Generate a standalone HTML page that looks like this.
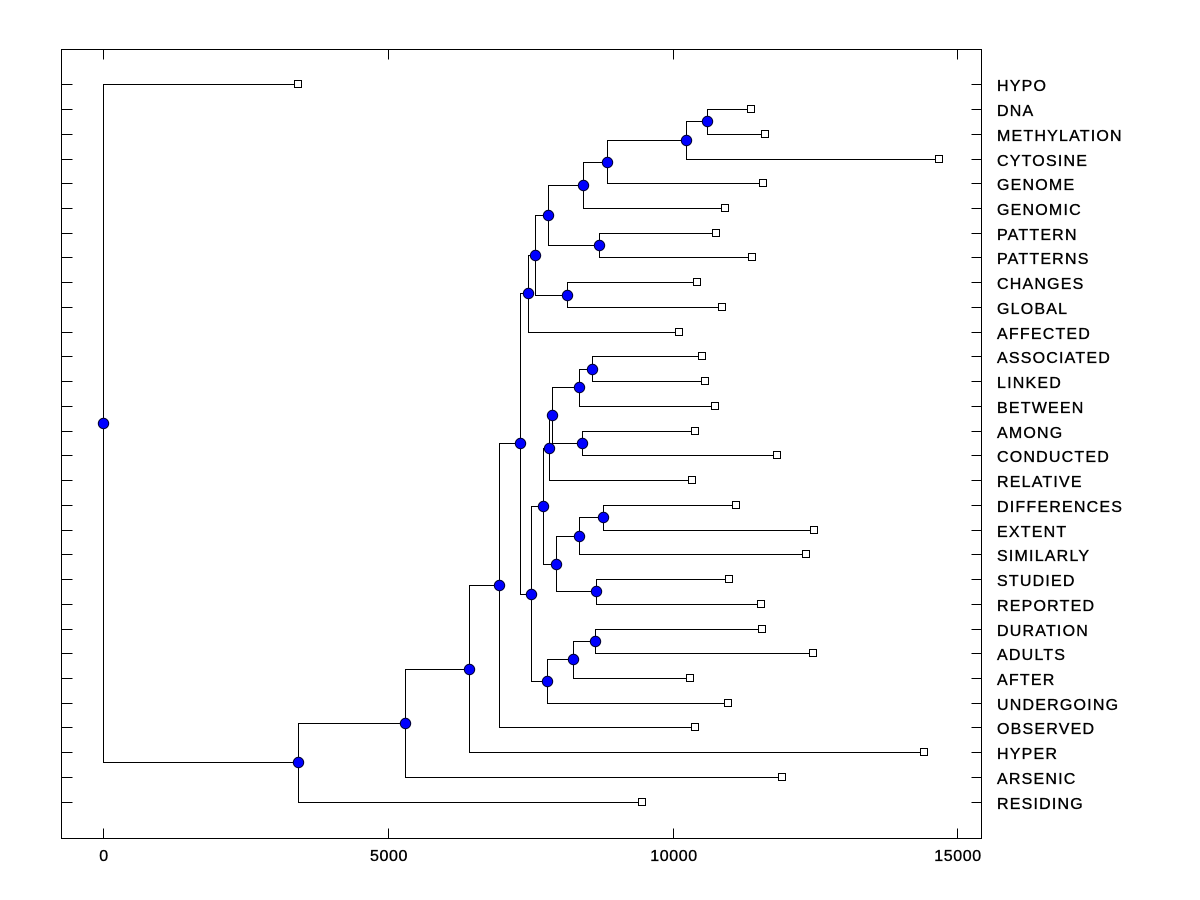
<!DOCTYPE html>
<html>
<head>
<meta charset="utf-8">
<style>
html,body{margin:0;padding:0;background:#fff;}
svg{display:block;}
text{font-family:"Liberation Sans",Arial,sans-serif;fill:#000;}
</style>
</head>
<body>
<svg width="1200" height="900" viewBox="0 0 1200 900" xmlns="http://www.w3.org/2000/svg">
<rect width="1200" height="900" fill="#fff"/>
<g transform="translate(0.5,0.5)" stroke="#000" stroke-width="1" fill="none" shape-rendering="crispEdges">
<rect x="61" y="49" width="920" height="789"/>
<path d="M61 84H72M61 109H72M61 134H72M61 159H72M61 183H72M61 208H72M61 233H72M61 257H72M61 282H72M61 307H72M61 332H72M61 356H72M61 381H72M61 406H72M61 431H72M61 455H72M61 480H72M61 505H72M61 530H72M61 554H72M61 579H72M61 604H72M61 629H72M61 653H72M61 678H72M61 703H72M61 727H72M61 752H72M61 777H72M61 802H72"/>
<path d="M971 84H981M971 109H981M971 134H981M971 159H981M971 183H981M971 208H981M971 233H981M971 257H981M971 282H981M971 307H981M971 332H981M971 356H981M971 381H981M971 406H981M971 431H981M971 455H981M971 480H981M971 505H981M971 530H981M971 554H981M971 579H981M971 604H981M971 629H981M971 653H981M971 678H981M971 703H981M971 727H981M971 752H981M971 777H981M971 802H981"/>
<path d="M103 828V838M388 828V838M673 828V838M957 828V838M103 49V59M388 49V59M673 49V59M957 49V59"/>
<path d="M751 109H707V134H765"/>
<path d="M707 121H686V159H939"/>
<path d="M686 140H607V183H763"/>
<path d="M607 162H583V208H725"/>
<path d="M716 233H599V257H752"/>
<path d="M583 185H548V245H599"/>
<path d="M697 282H567V307H722"/>
<path d="M548 215H535V295H567"/>
<path d="M535 255H528V332H679"/>
<path d="M702 356H592V381H705"/>
<path d="M592 369H579V406H715"/>
<path d="M695 431H582V455H777"/>
<path d="M579 387H552V443H582"/>
<path d="M552 415H549V480H692"/>
<path d="M736 505H603V530H814"/>
<path d="M603 517H579V554H806"/>
<path d="M729 579H596V604H761"/>
<path d="M579 536H556V591H596"/>
<path d="M549 448H543V564H556"/>
<path d="M762 629H595V653H813"/>
<path d="M595 641H573V678H690"/>
<path d="M573 659H547V703H728"/>
<path d="M543 506H531V681H547"/>
<path d="M528 293H520V594H531"/>
<path d="M520 443H499V727H695"/>
<path d="M499 585H469V752H924"/>
<path d="M469 669H405V777H782"/>
<path d="M405 723H298V802H642"/>
<path d="M298 84H103V762H298"/>
<g fill="#fff">
<rect x="294" y="80" width="7" height="7"/>
<rect x="747" y="105" width="7" height="7"/>
<rect x="761" y="130" width="7" height="7"/>
<rect x="935" y="155" width="7" height="7"/>
<rect x="759" y="179" width="7" height="7"/>
<rect x="721" y="204" width="7" height="7"/>
<rect x="712" y="229" width="7" height="7"/>
<rect x="748" y="253" width="7" height="7"/>
<rect x="693" y="278" width="7" height="7"/>
<rect x="718" y="303" width="7" height="7"/>
<rect x="675" y="328" width="7" height="7"/>
<rect x="698" y="352" width="7" height="7"/>
<rect x="701" y="377" width="7" height="7"/>
<rect x="711" y="402" width="7" height="7"/>
<rect x="691" y="427" width="7" height="7"/>
<rect x="773" y="451" width="7" height="7"/>
<rect x="688" y="476" width="7" height="7"/>
<rect x="732" y="501" width="7" height="7"/>
<rect x="810" y="526" width="7" height="7"/>
<rect x="802" y="550" width="7" height="7"/>
<rect x="725" y="575" width="7" height="7"/>
<rect x="757" y="600" width="7" height="7"/>
<rect x="758" y="625" width="7" height="7"/>
<rect x="809" y="649" width="7" height="7"/>
<rect x="686" y="674" width="7" height="7"/>
<rect x="724" y="699" width="7" height="7"/>
<rect x="691" y="723" width="7" height="7"/>
<rect x="920" y="748" width="7" height="7"/>
<rect x="778" y="773" width="7" height="7"/>
<rect x="638" y="798" width="7" height="7"/>
</g>
</g>
<g fill="#0000ff" stroke="#000033" stroke-width="1">
<circle cx="707.5" cy="121.5" r="5.2"/>
<circle cx="686.5" cy="140.5" r="5.2"/>
<circle cx="607.5" cy="162.5" r="5.2"/>
<circle cx="583.5" cy="185.5" r="5.2"/>
<circle cx="599.5" cy="245.5" r="5.2"/>
<circle cx="548.5" cy="215.5" r="5.2"/>
<circle cx="567.5" cy="295.5" r="5.2"/>
<circle cx="535.5" cy="255.5" r="5.2"/>
<circle cx="528.5" cy="293.5" r="5.2"/>
<circle cx="592.5" cy="369.5" r="5.2"/>
<circle cx="579.5" cy="387.5" r="5.2"/>
<circle cx="582.5" cy="443.5" r="5.2"/>
<circle cx="552.5" cy="415.5" r="5.2"/>
<circle cx="549.5" cy="448.5" r="5.2"/>
<circle cx="603.5" cy="517.5" r="5.2"/>
<circle cx="579.5" cy="536.5" r="5.2"/>
<circle cx="596.5" cy="591.5" r="5.2"/>
<circle cx="556.5" cy="564.5" r="5.2"/>
<circle cx="543.5" cy="506.5" r="5.2"/>
<circle cx="595.5" cy="641.5" r="5.2"/>
<circle cx="573.5" cy="659.5" r="5.2"/>
<circle cx="547.5" cy="681.5" r="5.2"/>
<circle cx="531.5" cy="594.5" r="5.2"/>
<circle cx="520.5" cy="443.5" r="5.2"/>
<circle cx="499.5" cy="585.5" r="5.2"/>
<circle cx="469.5" cy="669.5" r="5.2"/>
<circle cx="405.5" cy="723.5" r="5.2"/>
<circle cx="298.5" cy="762.5" r="5.2"/>
<circle cx="103.5" cy="423.5" r="5.2"/>
</g>
<g font-size="16" letter-spacing="1.2" stroke="#000" stroke-width="0.35">
<text x="997" y="91">HYPO</text>
<text x="997" y="116">DNA</text>
<text x="997" y="141">METHYLATION</text>
<text x="997" y="166">CYTOSINE</text>
<text x="997" y="190">GENOME</text>
<text x="997" y="215">GENOMIC</text>
<text x="997" y="240">PATTERN</text>
<text x="997" y="264">PATTERNS</text>
<text x="997" y="289">CHANGES</text>
<text x="997" y="314">GLOBAL</text>
<text x="997" y="339">AFFECTED</text>
<text x="997" y="363">ASSOCIATED</text>
<text x="997" y="388">LINKED</text>
<text x="997" y="413">BETWEEN</text>
<text x="997" y="438">AMONG</text>
<text x="997" y="462">CONDUCTED</text>
<text x="997" y="487">RELATIVE</text>
<text x="997" y="512">DIFFERENCES</text>
<text x="997" y="537">EXTENT</text>
<text x="997" y="561">SIMILARLY</text>
<text x="997" y="586">STUDIED</text>
<text x="997" y="611">REPORTED</text>
<text x="997" y="636">DURATION</text>
<text x="997" y="660">ADULTS</text>
<text x="997" y="685">AFTER</text>
<text x="997" y="710">UNDERGOING</text>
<text x="997" y="734">OBSERVED</text>
<text x="997" y="759">HYPER</text>
<text x="997" y="784">ARSENIC</text>
<text x="997" y="809">RESIDING</text>
</g>
<g font-size="16" letter-spacing="0.6" text-anchor="middle" stroke="#000" stroke-width="0.35">
<text x="104" y="861">0</text>
<text x="389" y="861">5000</text>
<text x="674" y="861">10000</text>
<text x="958" y="861">15000</text>
</g>
</svg>
</body>
</html>
